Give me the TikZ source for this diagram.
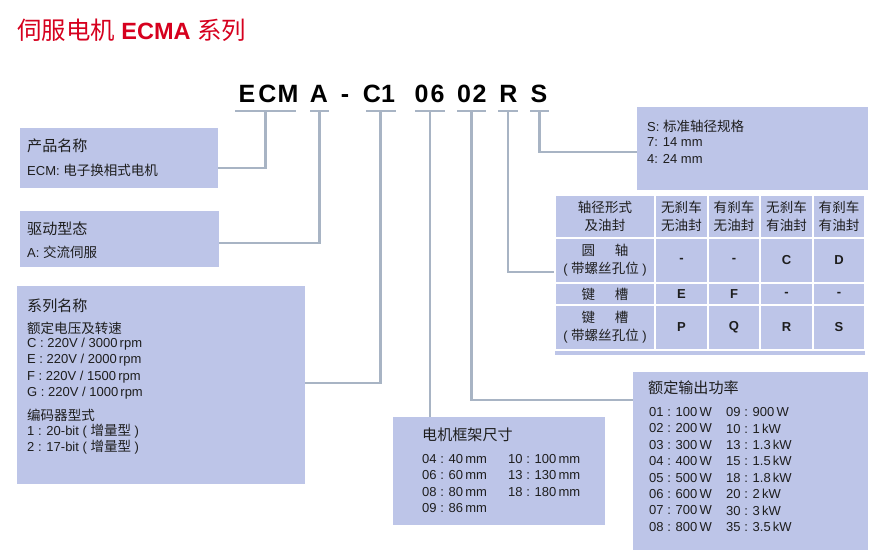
\documentclass[tikz,border=0pt]{standalone}
\usepackage{fontspec}
\setmainfont{Liberation Sans}
\newfontfamily\cjk[Scale=1.04]{Noto Sans CJK SC}
\newcommand\zh[1]{{\cjk #1}}
\definecolor{boxblue}{RGB}{189,197,232}
\definecolor{linegray}{RGB}{168,180,196}
\definecolor{txt}{RGB}{30,30,30}
\definecolor{titlered}{RGB}{214,0,30}
\begin{document}
\begin{tikzpicture}[x=1pt,y=-1pt,
  box/.style={fill=boxblue, inner sep=0pt, anchor=north west},
  bar/.style={fill=linegray, inner sep=0pt, minimum height=2.4pt},
  conn/.style={draw=linegray, line width=2.2pt},
  code/.style={anchor=base, inner sep=0pt, font=\fontsize{25}{28}\selectfont\bfseries},
  t/.style={anchor=west, inner sep=0pt, text=txt, font=\fontsize{13}{15}\selectfont},
  hd/.style={anchor=west, inner sep=0pt, text=txt, font=\fontsize{14.5}{18}\selectfont},
  cell/.style={fill=boxblue, draw=white, line width=1.6pt, inner sep=0pt, align=center,
    text=txt, font=\fontsize{13}{18}\selectfont},
  lcell/.style={cell, font=\fontsize{13}{18}\selectfont\bfseries},
]
\useasboundingbox[fill=white] (0,0) rectangle (875,553);

% title
\node[anchor=west, inner sep=0pt, text=titlered, font=\fontsize{23.5}{26}\selectfont] (title) at (17,30)
  {\zh{伺服电机} \textbf{ECMA} \zh{系列}};

% code letters
\node[code] (cE) at (247,103) {E};
\node[code] (cC) at (267.5,103) {C};
\node[code] (cM) at (288,103) {M};
\node[code] (cA) at (319,103) {A};
\node[code] (cdash) at (345,103) {-};
\node[code] (cC2) at (372,103) {C};
\node[code] (c1) at (388,103) {1};
\node[code] (c0a) at (421.5,103) {0};
\node[code] (c6) at (437.5,103) {6};
\node[code] (c0b) at (464,103) {0};
\node[code] (c2) at (479.5,103) {2};
\node[code] (cR) at (508.5,103) {R};
\node[code] (cS) at (539,103) {S};

% bars
\node[bar, minimum width=61pt] (b1) at (265.5,111) {};
\node[bar, minimum width=19pt] (b2) at (319.5,111) {};
\node[bar, minimum width=30pt] (b3) at (380.5,111) {};
\node[bar, minimum width=30pt] (b4) at (430,111) {};
\node[bar, minimum width=29pt] (b5) at (471.5,111) {};
\node[bar, minimum width=20pt] (b6) at (508,111) {};
\node[bar, minimum width=19pt] (b7) at (539.5,111) {};

% boxes
\node[box, minimum width=198pt, minimum height=60pt] (box1) at (20,128) {};
\node[box, minimum width=199pt, minimum height=56pt] (box2) at (20,211) {};
\node[box, minimum width=288pt, minimum height=198pt] (box3) at (17,286) {};
\node[box, minimum width=212pt, minimum height=108pt] (box4) at (393,417) {};
\node[box, minimum width=235pt, minimum height=178pt] (box5) at (633,372) {};
\node[box, minimum width=231pt, minimum height=83pt] (sbox) at (637,107) {};
\node[box, minimum width=310pt, minimum height=159.5pt] (tbl) at (555,195) {};

% table cells
\node[cell, minimum width=100pt, minimum height=43pt] (r1c0) at (605,216.5) {\zh{轴径形式}\\\zh{及油封}};
\node[cell, minimum width=53pt, minimum height=43pt] (r1c1) at (681.5,216.5) {\zh{无刹车}\\\zh{无油封}};
\node[cell, minimum width=52pt, minimum height=43pt] (r1c2) at (734,216.5) {\zh{有刹车}\\\zh{无油封}};
\node[cell, minimum width=53pt, minimum height=43pt] (r1c3) at (786.5,216.5) {\zh{无刹车}\\\zh{有油封}};
\node[cell, minimum width=52pt, minimum height=43pt] (r1c4) at (839,216.5) {\zh{有刹车}\\\zh{有油封}};

\node[cell, minimum width=100pt, minimum height=45pt] (r2c0) at (605,260.5) {\zh{圆}\hspace{1.5em}\zh{轴}\\( \zh{带螺丝孔位} )};
\node[lcell, minimum width=53pt, minimum height=45pt] (r2c1) at (681.5,260.5) {-};
\node[lcell, minimum width=52pt, minimum height=45pt] (r2c2) at (734,260.5) {-};
\node[lcell, minimum width=53pt, minimum height=45pt] (r2c3) at (786.5,260.5) {C};
\node[lcell, minimum width=52pt, minimum height=45pt] (r2c4) at (839,260.5) {D};

\node[cell, minimum width=100pt, minimum height=22pt] (r3c0) at (605,294) {\zh{键}\hspace{1.5em}\zh{槽}};
\node[lcell, minimum width=53pt, minimum height=22pt] (r3c1) at (681.5,294) {E};
\node[lcell, minimum width=52pt, minimum height=22pt] (r3c2) at (734,294) {F};
\node[lcell, minimum width=53pt, minimum height=22pt] (r3c3) at (786.5,294) {-};
\node[lcell, minimum width=52pt, minimum height=22pt] (r3c4) at (839,294) {-};

\node[cell, minimum width=100pt, minimum height=45pt] (r4c0) at (605,327.5) {\zh{键}\hspace{1.5em}\zh{槽}\\( \zh{带螺丝孔位} )};
\node[lcell, minimum width=53pt, minimum height=45pt] (r4c1) at (681.5,327.5) {P};
\node[lcell, minimum width=52pt, minimum height=45pt] (r4c2) at (734,327.5) {Q};
\node[lcell, minimum width=53pt, minimum height=45pt] (r4c3) at (786.5,327.5) {R};
\node[lcell, minimum width=52pt, minimum height=45pt] (r4c4) at (839,327.5) {S};

% connectors
\draw[conn] (b1.center) |- ([yshift=-10pt]box1.east);
\draw[conn] (b2.center) |- ([yshift=-4pt]box2.east);
\draw[conn] (b3.center) |- ([yshift=2pt]box3.east);
\draw[conn] (b4.center) -- (b4.center |- box4.north);
\draw[conn] (b5.center) |- ([yshift=61pt]box5.west);
\draw[conn] (b6.center) |- ([yshift=-11.5pt]r2c0.west);
\draw[conn] (b7.center) |- ([yshift=-3.5pt]sbox.west);

% box 1
\node[hd] (h1) at (27,146) {\zh{产品名称}};
\node[t] (t1) at (27,170) {ECM: \zh{电子换相式电机}};
% box 2
\node[hd] (h2) at (27,229) {\zh{驱动型态}};
\node[t] (t2) at (27,252) {A: \zh{交流伺服}};
% box 3
\node[hd] (h3) at (27,306) {\zh{系列名称}};
\node[t] (t3a) at (27,328) {\zh{额定电压及转速}};
\node[t] (t3b) at (27,344) {C : 220V / 3000\,rpm};
\node[t] (t3c) at (27,360) {E : 220V / 2000\,rpm};
\node[t] (t3d) at (27,377) {F : 220V / 1500\,rpm};
\node[t] (t3e) at (27,393) {G : 220V / 1000\,rpm};
\node[t] (t3f) at (27,415) {\zh{编码器型式}};
\node[t] (t3g) at (27,431) {1 : 20-bit ( \zh{增量型} )};
\node[t] (t3h) at (27,447) {2 : 17-bit ( \zh{增量型} )};
% box 4
\node[hd] (h4) at (422,435) {\zh{电机框架尺寸}};
\node[t] (t4a) at (422,459) {04 : 40\,mm};
\node[t] (t4b) at (422,475) {06 : 60\,mm};
\node[t] (t4c) at (422,492) {08 : 80\,mm};
\node[t] (t4d) at (422,508) {09 : 86\,mm};
\node[t] (t4e) at (508,459) {10 : 100\,mm};
\node[t] (t4f) at (508,475) {13 : 130\,mm};
\node[t] (t4g) at (508,492) {18 : 180\,mm};
% box 5
\node[hd] (h5) at (648,388) {\zh{额定输出功率}};
\node[t] (p1) at (649,412) {01 : 100\,W};
\node[t] (p2) at (649,428.4) {02 : 200\,W};
\node[t] (p3) at (649,444.8) {03 : 300\,W};
\node[t] (p4) at (649,461.2) {04 : 400\,W};
\node[t] (p5) at (649,477.6) {05 : 500\,W};
\node[t] (p6) at (649,494) {06 : 600\,W};
\node[t] (p7) at (649,510.4) {07 : 700\,W};
\node[t] (p8) at (649,526.8) {08 : 800\,W};
\node[t] (q1) at (726,412) {09 : 900\,W};
\node[t] (q2) at (726,428.4) {10 : 1\,kW};
\node[t] (q3) at (726,444.8) {13 : 1.3\,kW};
\node[t] (q4) at (726,461.2) {15 : 1.5\,kW};
\node[t] (q5) at (726,477.6) {18 : 1.8\,kW};
\node[t] (q6) at (726,494) {20 : 2\,kW};
\node[t] (q7) at (726,510.4) {30 : 3\,kW};
\node[t] (q8) at (726,526.8) {35 : 3.5\,kW};
% S box
\node[t] (s1) at (647,126) {S: \zh{标准轴径规格}};
\node[t] (s2) at (647,142) {7: 14 mm};
\node[t] (s3) at (647,159) {4: 24 mm};
\end{tikzpicture}
\end{document}
